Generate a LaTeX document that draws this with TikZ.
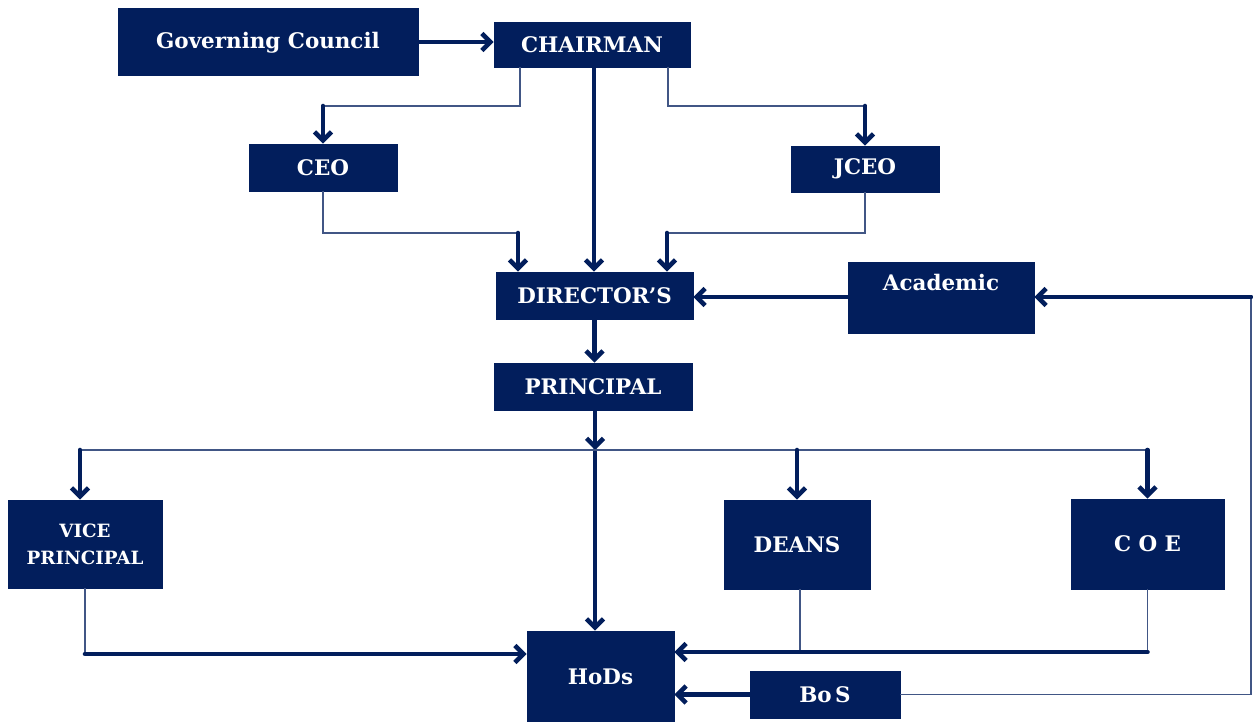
\documentclass[tikz,border=0pt]{standalone}
\usepackage{fontspec}
\setmainfont{DejaVu Serif}
\usetikzlibrary{calc, arrows.meta}
\definecolor{navy}{RGB}{2,30,92}
\tikzstyle{post} = [draw=navy, fill=navy, text=white, font=\fontsize{12.2}{14}\selectfont\bfseries, inner sep=0pt, align=center]
\tikzstyle{wire} = [draw=navy!75, line width=0.7pt]
\tikzstyle{feed} = [draw=navy, line width=2.6pt, line cap=round, line join=round]
\tikzstyle{tip} = [feed, -{Straight Barb[length=1.7mm,width=3.4mm]}]

\begin{document}
\begin{tikzpicture}
 		\useasboundingbox (0,0) rectangle (25.06,14.44);
 		\node[post, minimum width=6cm, minimum height=1.34cm, text height=0.4cm, text depth=0.1cm] (gc) at (5.36,13.61) {Governing Council};
 		\node[post, minimum width=3.92cm, minimum height=0.9cm] (chair) at (11.84,13.55) {CHAIRMAN};
 		\node[post, minimum width=2.96cm, minimum height=0.94cm] (ceo) at (6.46,11.09) {CEO};
 		\node[post, minimum width=2.96cm, minimum height=0.92cm] (jceo) at (17.30,11.06) {JCEO};
 		\node[post, minimum width=3.94cm, minimum height=0.94cm] (dir) at (11.89,8.53) {DIRECTOR'S};
 		\node[post, minimum width=3.72cm, minimum height=1.42cm, text height=0.3cm, text depth=0.56cm] (acad) at (18.82,8.49) {Academic};
 		\node[post, minimum width=3.96cm, minimum height=0.94cm] (prin) at (11.86,6.71) {PRINCIPAL};
 		\node[post, minimum width=3.08cm, minimum height=1.76cm, font=\fontsize{10.4}{15.4}\selectfont\bfseries] (vp) at (1.70,3.56) {VICE\\PRINCIPAL};
 		\node[post, minimum width=2.92cm, minimum height=1.78cm] (deans) at (15.94,3.55) {DEANS};
 		\node[post, minimum width=3.06cm, minimum height=1.8cm] (coe) at (22.95,3.56) {C O E};
 		\node[post, minimum width=2.94cm, minimum height=1.82cm] (hods) at (12.01,0.91) {HoDs};
 		\node[post, minimum width=3cm, minimum height=0.94cm] (bos) at (16.50,0.55) {Bo\,S};
 		\coordinate (upper) at (0,12.32);
 		\coordinate (middle) at (0,9.78);
 		\coordinate (bus) at (0,5.44);
 		\coordinate (edge) at (25.02,0);
 		% top
 		\draw[tip] (gc.east |- 0,13.6) -- (chair.west |- 0,13.6);
 		\draw[wire] ([xshift=-1.44cm]chair.south) |- (ceo.north |- upper);
 		\draw[tip] (ceo.north |- upper) -- (ceo.north);
 		\draw[wire] ([xshift=1.52cm]chair.south) |- (jceo.north |- upper);
 		\draw[tip] (jceo.north |- upper) -- (jceo.north);
 		\draw[tip] ([xshift=0.04cm]chair.south) -- ([xshift=0.04cm]chair.south |- dir.north);
 		\draw[wire] (ceo.south) |- ([xshift=-1.53cm]dir.north |- middle);
 		\draw[tip] ([xshift=-1.53cm]dir.north |- middle) -- ([xshift=-1.53cm]dir.north);
 		\draw[wire] (jceo.south) |- ([xshift=1.45cm]dir.north |- middle);
 		\draw[tip] ([xshift=1.45cm]dir.north |- middle) -- ([xshift=1.45cm]dir.north);
 		\draw[tip] (acad.west |- 0,8.5) -- (dir.east |- 0,8.5);
 		\draw[wire] (bos.east) -| (edge |- 0,8.5);
 		\draw[tip] (edge |- 0,8.5) -- (acad.east |- 0,8.5);
 		\draw[tip] (dir.south) -- (dir.south |- prin.north);
 		% middle
 		\draw[tip] ([xshift=0.04cm]prin.south) -- ([xshift=0.04cm]prin.south |- bus);
 		\draw[feed] ([xshift=0.04cm]prin.south |- bus) -- ([xshift=0.04cm]prin.south |- 0,5.0);
 		\draw[tip] ([xshift=0.04cm]prin.south |- 0,5.0) -- ([xshift=0.04cm]prin.south |- hods.north);
 		\draw[wire] ([xshift=-0.1cm]vp.north |- bus) -- (coe.north |- bus);
 		\draw[tip] ([xshift=-0.1cm]vp.north |- bus) -- ([xshift=-0.1cm]vp.north);
 		\draw[tip] (deans.north |- bus) -- (deans.north);
 		\draw[tip] (coe.north |- bus) -- (coe.north);
 		% bottom
 		\draw[wire] (vp.south) -- (vp.south |- 0,1.36);
 		\draw[tip] (vp.south |- 0,1.36) -- (hods.west |- 0,1.36);
 		\draw[wire] ([xshift=0.06cm]deans.south) -- ([xshift=0.06cm]deans.south |- 0,1.4);
 		\draw[wire] (coe.south) -- (coe.south |- 0,1.4);
 		\draw[tip] (coe.south |- 0,1.4) -- (hods.east |- 0,1.4);
 		\draw[tip] (bos.west) -- (hods.east |- bos.west);
 	\end{tikzpicture}
\end{document}
